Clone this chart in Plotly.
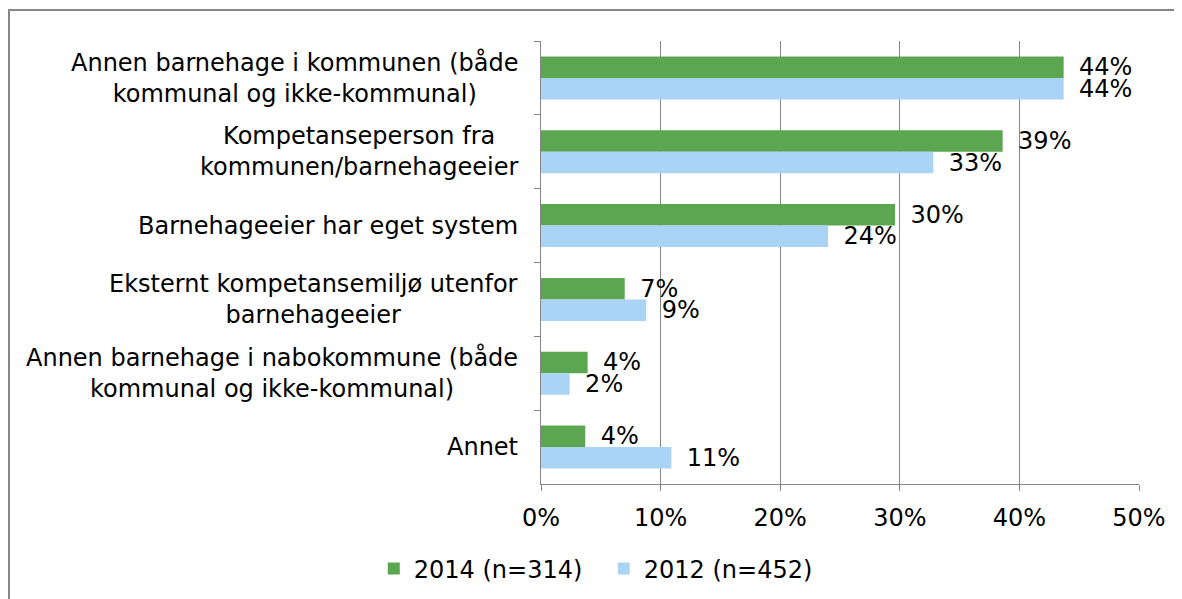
import plotly.graph_objects as go

categories = [
    "Annen barnehage i kommunen (både<br>kommunal og ikke-kommunal)",
    "Kompetanseperson fra<br>kommunen/barnehageeier",
    "Barnehageeier har eget system",
    "Eksternt kompetansemiljø utenfor<br>barnehageeier",
    "Annen barnehage i nabokommune (både<br>kommunal og ikke-kommunal)",
    "Annet",
]
series_2014 = [43.7, 38.6, 29.6, 7.0, 3.9, 3.7]
series_2012 = [43.7, 32.8, 24.0, 8.8, 2.4, 10.9]
series_names = ["2014 (n=314)", "2012 (n=452)"]
x_ticks = [0, 10, 20, 30, 40, 50]
x_tick_labels = ["0%", "10%", "20%", "30%", "40%", "50%"]

GREEN = "#5CA551"
BLUE = "#A9D4F5"
GRID = "#868686"
FONT = "DejaVu Sans"
FS = 24

W, H = 1174, 591
ML, MR, MT, MB = 533, 43, 33, 115
PW = W - ML - MR
PH = H - MT - MB

fig = go.Figure()
for name, vals, col in [(series_names[0], series_2014, GREEN), (series_names[1], series_2012, BLUE)]:
    fig.add_trace(go.Bar(
        y=categories, x=vals, name=name, orientation="h",
        marker=dict(color=col, line=dict(width=0)),
        texttemplate="\u00a0\u2009%{x:.0f}%", textposition="outside",
        textfont=dict(family=FONT, size=FS, color="black"),
        cliponaxis=False, constraintext="none",
    ))

annotations = []
for c in categories:
    annotations.append(dict(
        x=0, xref="paper", y=c, yref="y", xanchor="right", yanchor="middle",
        xshift=-21, text=c, showarrow=False, align="center",
        font=dict(family=FONT, size=FS, color="black"),
    ))

fig.update_layout(
    width=W, height=H,
    margin=dict(l=ML, r=MR, t=MT, b=MB, autoexpand=False),
    plot_bgcolor="white", paper_bgcolor="white",
    barmode="group", bargap=0.417, bargroupgap=0,
    font=dict(family=FONT, size=FS, color="black"),
    showlegend=True,
    legend=dict(
        orientation="h", xref="paper", x=0.105, xanchor="center",
        yref="container", y=1 - 561 / H, yanchor="middle",
        font=dict(family=FONT, size=FS, color="black"),
        traceorder="normal", entrywidth=185,
    ),
    annotations=annotations,
    shapes=[dict(type="rect", xref="paper", yref="paper",
                 x0=(1 - ML) / PW, x1=1.2, y0=-0.5, y1=(PH + MT - 2) / PH,
                 line=dict(color=GRID, width=2), layer="below")],
)
fig.update_xaxes(
    range=[0, 50], tickvals=x_ticks, ticktext=x_tick_labels,
    showgrid=True, gridcolor=GRID, gridwidth=1,
    showline=True, linecolor=GRID, linewidth=1,
    ticks="outside", ticklen=6, tickcolor=GRID, ticklabelstandoff=6,
    zeroline=False, tickfont=dict(family=FONT, size=FS, color="black"),
)
fig.update_yaxes(
    type="category", categoryarray=categories, categoryorder="array",
    autorange="reversed", showline=True, linecolor=GRID, linewidth=1,
    ticks="outside", tickson="boundaries", ticklen=6, tickcolor=GRID,
    showticklabels=False, showgrid=False,
)

fig.write_html("out.html")
